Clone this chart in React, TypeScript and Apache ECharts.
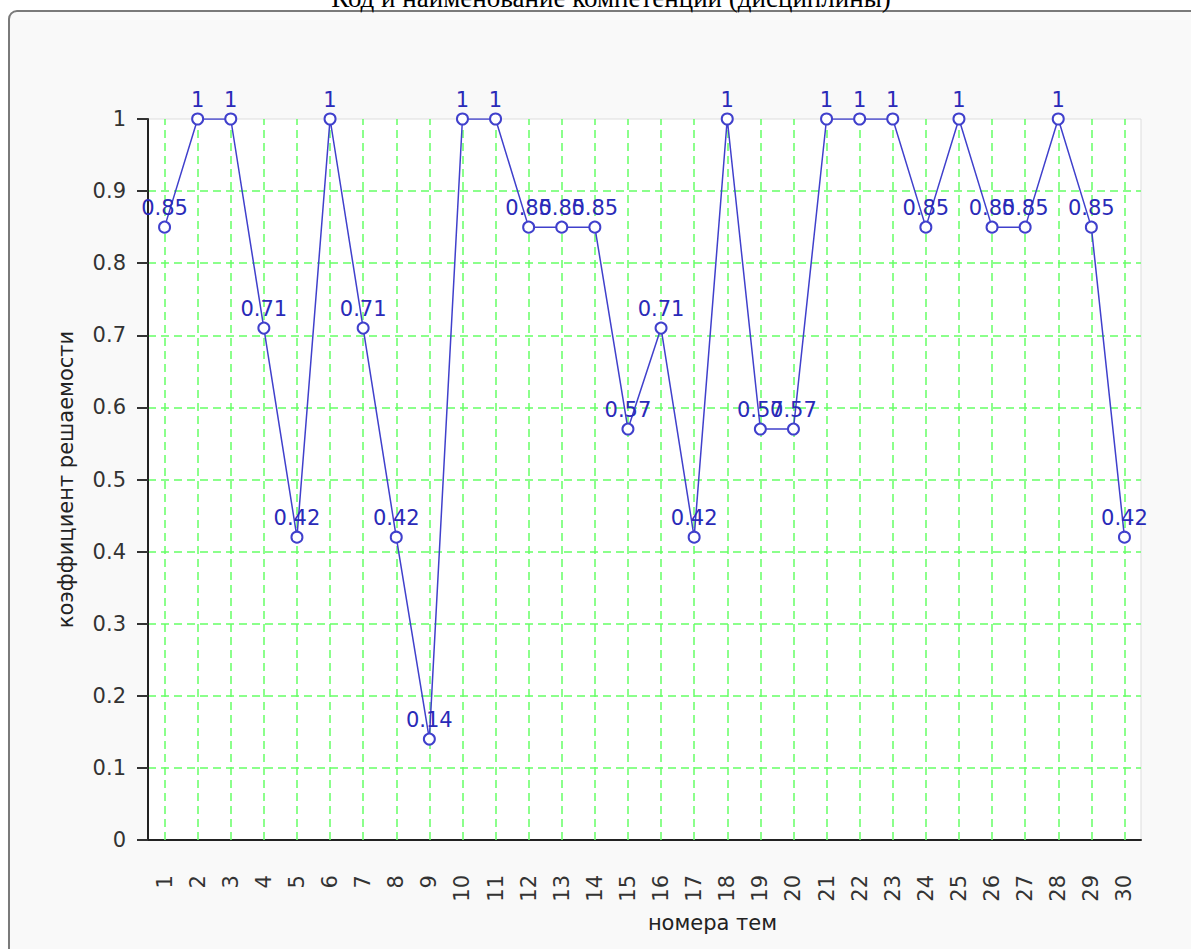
import React, { useEffect, useRef } from "react";
import * as echarts from "echarts";

const categories = ["1","2","3","4","5","6","7","8","9","10","11","12","13","14","15","16","17","18","19","20","21","22","23","24","25","26","27","28","29","30"];
const values = [0.85,1,1,0.71,0.42,1,0.71,0.42,0.14,1,1,0.85,0.85,0.85,0.57,0.71,0.42,1,0.57,0.57,1,1,1,0.85,1,0.85,0.85,1,0.85,0.42];
const titleText = "Код и наименование компетенции (дисциплины)";
const xName = "номера тем";
const yName = "коэффициент решаемости";

const FONT = "DejaVu Sans";
const GRID_GREEN = "#66ff66";

export default function App() {
  const ref = useRef<HTMLDivElement>(null);
  useEffect(() => {
    if (!ref.current) return;
    const chart = echarts.init(ref.current, null, { renderer: "svg" });
    chart.setOption({
      animation: false,
      backgroundColor: "#ffffff",
      graphic: [
        {
          type: "rect",
          z: -10,
          silent: true,
          shape: { x: 9, y: 11, width: 1300, height: 1100, r: 8 },
          style: { fill: "#f9f9f9", stroke: "#7a7a7a", lineWidth: 2 },
        },
        {
          type: "text",
          z: 10,
          x: 611,
          y: -2,
          style: {
            text: titleText,
            fontFamily: "Liberation Serif",
            fontSize: 27,
            fill: "#000",
            align: "center",
            verticalAlign: "middle",
          },
        },
      ],
      grid: {
        left: 148,
        top: 119,
        right: 50,
        bottom: 109,
        show: true,
        backgroundColor: "#ffffff",
        borderColor: "#dddddd",
        borderWidth: 1,
        containLabel: false,
      },
      xAxis: {
        type: "category",
        data: categories,
        boundaryGap: true,
        name: xName,
        nameLocation: "middle",
        nameGap: 72,
        nameTextStyle: { fontFamily: FONT, fontSize: 21, color: "#222", padding: [0, 0, 0, 136] },
        axisLine: { lineStyle: { color: "#222", width: 2 } },
        axisTick: { alignWithLabel: true, length: 11, lineStyle: { color: "#333", width: 2 } },
        axisLabel: { interval: 0, rotate: 90, margin: 35, fontFamily: FONT, fontSize: 21, color: "#333" },
        splitLine: { show: false },
        splitArea: { show: false },
      },
      yAxis: {
        type: "value",
        min: 0,
        max: 1,
        interval: 0.1,
        name: yName,
        nameLocation: "middle",
        nameGap: 72,
        nameTextStyle: { fontFamily: FONT, fontSize: 21, color: "#222" },
        axisLine: { show: true, lineStyle: { color: "#222", width: 2 } },
        axisTick: { show: true, length: 11, lineStyle: { color: "#333", width: 2 } },
        axisLabel: { margin: 22, fontFamily: FONT, fontSize: 21, color: "#333" },
        splitLine: {
          show: true,
          showMaxLine: false,
          showMinLine: false,
          lineStyle: { color: GRID_GREEN, type: [8, 5], width: 1.5 },
        },
      },
      series: [
        {
          type: "line",
          data: values,
          symbol: "emptyCircle",
          symbolSize: 11,
          z: 3,
          lineStyle: { color: "#4040cc", width: 1.5 },
          itemStyle: { color: "#4040cc", borderWidth: 1.5 },
          label: {
            show: true,
            position: "top",
            distance: 2,
            fontFamily: FONT,
            fontSize: 21,
            color: "#2a2ab8",
          },
          labelLayout: { hideOverlap: false },
          markLine: {
            silent: true,
            z: 1,
            symbol: ["none", "none"],
            label: { show: false },
            lineStyle: { color: GRID_GREEN, type: [8, 5], width: 1.5 },
            emphasis: { disabled: true },
            data: categories.map((c, i) => ({ xAxis: i })),
          },
        },
      ],
    });
    return () => chart.dispose();
  }, []);
  return <div ref={ref} style={{ position: "absolute", left: 0, top: 0, width: 1191, height: 949 }} />;
}
